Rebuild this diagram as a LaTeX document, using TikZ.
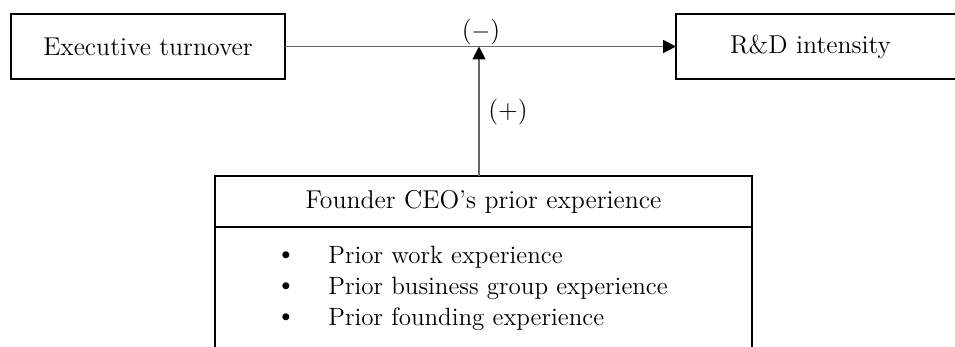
\documentclass[tikz,border=0pt]{standalone}
\usetikzlibrary{arrows.meta}
\begin{document}
\begin{tikzpicture}[x=0.5pt,y=-0.5pt,
  txt/.style={font=\fontsize{12.9}{15}\selectfont},
  boxnode/.style={draw=black,line width=1pt,rectangle,inner sep=0pt,outer sep=0pt,txt},
  conn/.style={draw=black!60,line width=0.9pt,-{Triangle[length=6.5pt,width=6.5pt,fill=black,color=black]}},
  lbl/.style={txt,inner sep=0pt}]
\useasboundingbox (0,0) rectangle (955,347);
\clip (0,0) rectangle (955,347);
\node[boxnode,minimum width=137pt,minimum height=32.5pt] (et) at (148,46.5) {Executive turnover};
\node[boxnode,minimum width=150pt,minimum height=32.5pt,text width=150pt,align=left] (rd) at (826,46.5) {\hspace*{27pt}R\&D intensity};
\node[boxnode,minimum width=268.5pt,minimum height=25.5pt] (fc) at (483.5,201.5) {Founder CEO's prior experience};
\node[boxnode,minimum width=268.5pt,minimum height=70pt,anchor=north] (body) at (fc.south) {};
\coordinate (m) at (479,46.5);
\draw[conn] (et.east) -- (rd.west);
\draw[conn] (fc.north -| m) -- (m);
\node[lbl] (minus) at (481,32) {($-$)};
\node[lbl] (plus) at (508,112) {(+)};
\foreach \y/\t [count=\i] in {257/Prior work experience,288/Prior business group experience,319/Prior founding experience}{
  \node[lbl] (b\i) at (286,\y) {\textbullet};
  \node[lbl,anchor=west,font=\fontsize{12.5}{15}\selectfont] (t\i) at (328,\y) {\t};
}
\end{tikzpicture}
\end{document}
